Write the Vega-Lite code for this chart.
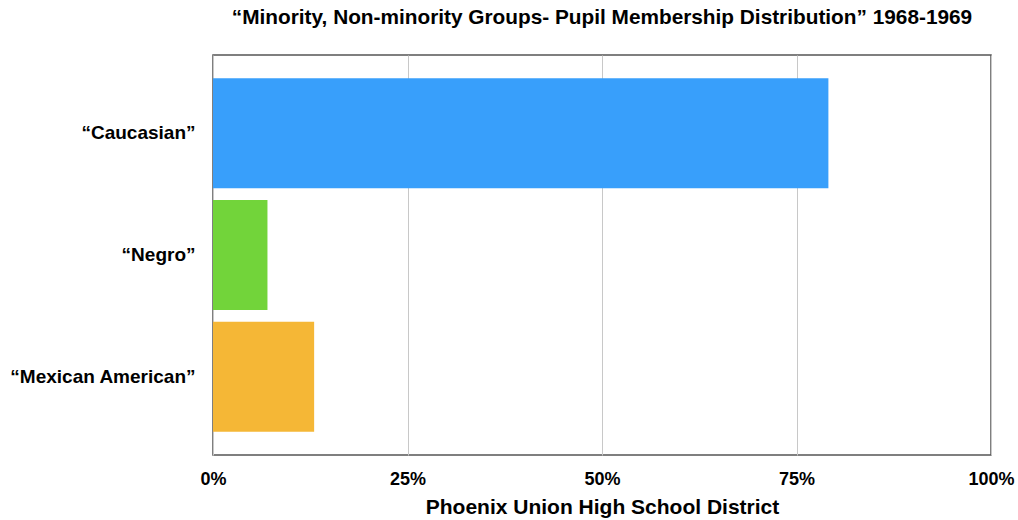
{
  "$schema": "https://vega.github.io/schema/vega-lite/v6.json",
  "autosize": {"type": "none"},
  "width": 778,
  "height": 400,
  "padding": {"left": 213, "top": 55, "right": 27, "bottom": 65},
  "background": "white",
  "title": {
    "text": "“Minority, Non-minority Groups- Pupil Membership Distribution” 1968-1969",
    "font": "Liberation Sans",
    "fontSize": 20.8,
    "fontWeight": "bold",
    "color": "#000000",
    "anchor": "middle",
    "offset": 26
  },
  "data": {
    "values": [
      {"group": "“Caucasian”", "share": 0.791},
      {"group": "“Negro”", "share": 0.07},
      {"group": "“Mexican American”", "share": 0.13}
    ]
  },
  "mark": {"type": "bar"},
  "encoding": {
    "y": {
      "field": "group",
      "type": "nominal",
      "sort": null,
      "scale": {"paddingInner": 0.096, "paddingOuter": 0.19},
      "axis": {
        "title": null,
        "domain": false,
        "ticks": false,
        "labelFont": "Liberation Sans",
        "labelFontSize": 19,
        "labelFontWeight": "bold",
        "labelColor": "#000000",
        "labelPadding": 18,
        "labelLimit": 300
      }
    },
    "x": {
      "field": "share",
      "type": "quantitative",
      "scale": {"domain": [0, 1], "nice": false},
      "axis": {
        "values": [0, 0.25, 0.5, 0.75, 1],
        "format": ".0%",
        "title": "Phoenix Union High School District",
        "titleFont": "Liberation Sans",
        "titleFontSize": 21,
        "titleFontWeight": "bold",
        "titleColor": "#000000",
        "titlePadding": 8,
        "labelFont": "Liberation Sans",
        "labelFontSize": 18,
        "labelFontWeight": "bold",
        "labelColor": "#000000",
        "labelPadding": 15,
        "labelFlush": false,
        "domain": false,
        "ticks": false,
        "grid": true,
        "gridColor": "#c8c8c8",
        "gridWidth": 1
      }
    },
    "color": {
      "field": "group",
      "type": "nominal",
      "scale": {
        "domain": ["“Caucasian”", "“Negro”", "“Mexican American”"],
        "range": ["#389ffb", "#72d43a", "#f5b736"]
      },
      "legend": null
    }
  },
  "config": {
    "view": {"stroke": "#555555", "strokeWidth": 1.5}
  }
}
